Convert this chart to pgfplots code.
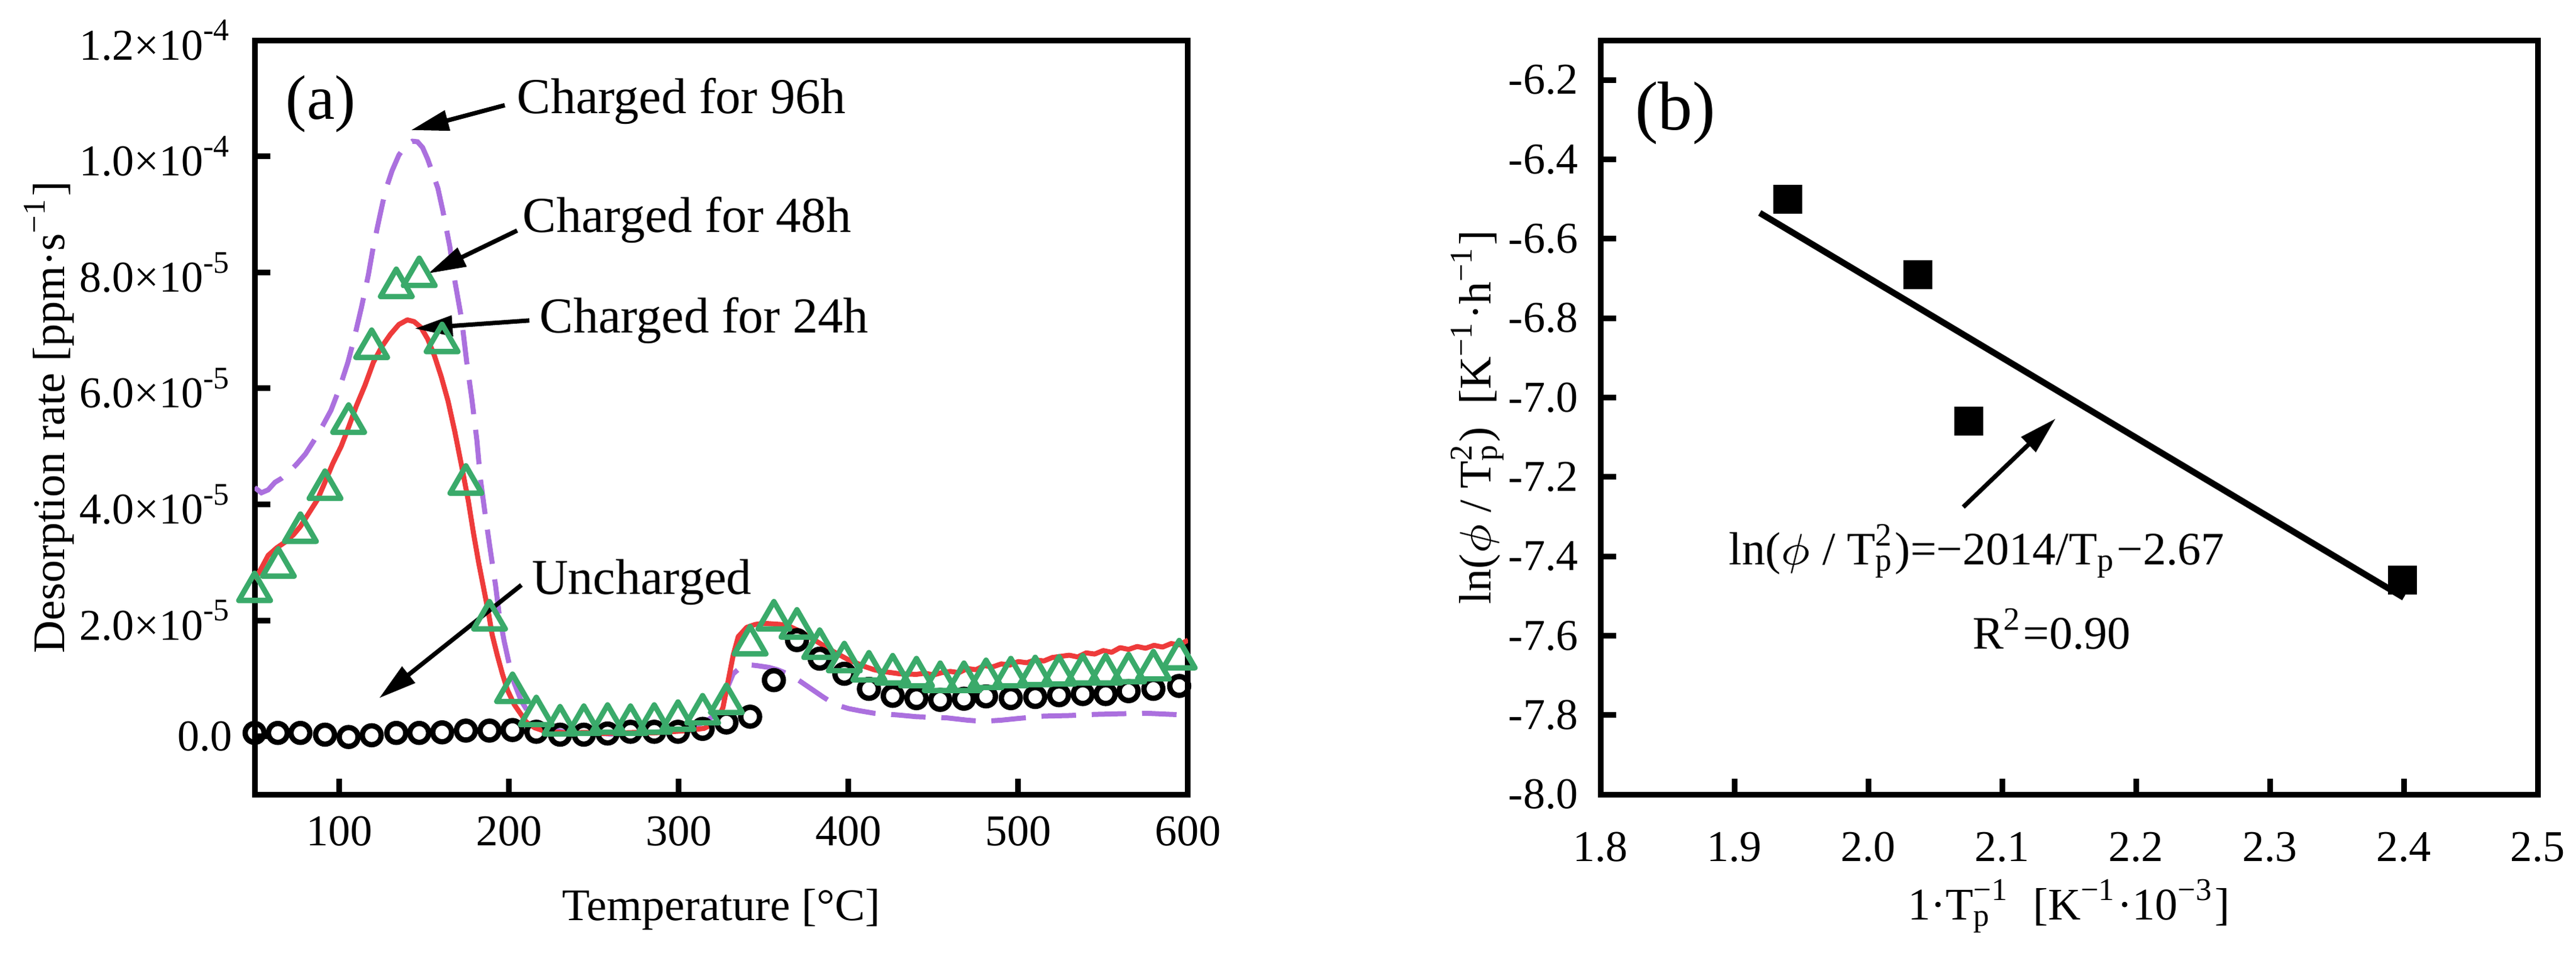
\documentclass[border=0pt]{standalone}
\usepackage{pgfplots}
\pgfplotsset{compat=1.18}
\usepackage{fontspec}
\setmainfont{Liberation Serif}
\usetikzlibrary{arrows.meta}
\definecolor{cred}{RGB}{238,59,59}
\definecolor{cgreen}{RGB}{58,170,106}
\definecolor{cpurple}{RGB}{171,112,222}
\newcommand{\Tpt}{T\rlap{\textsuperscript{2}}\textsubscript{p}}
\newcommand{\Tpm}{T\rlap{\textsubscript{p}}\textsuperscript{−1}}
\tikzset{annarrow/.style={line width=0.7pt, -{Triangle[length=6pt,width=3.2pt]}}}
\begin{document}
\begin{tikzpicture}
\path[use as bounding box] (0pt,0pt) rectangle (409.8pt,-152.8pt);
\begin{axis}[
  at={(40.5pt,-126.4pt)}, anchor=south west, scale only axis,
  width=148.5pt, height=120pt,
  xmin=50, xmax=600, ymin=-1e-5, ymax=1.2e-4,
  scaled y ticks=false, scaled x ticks=false,
  xtick={100,200,300,400,500,600},
  xticklabels={100,200,300,400,500,600},
  ytick={0,2e-5,4e-5,6e-5,8e-5,1e-4,1.2e-4},
  yticklabels={0.0,2.0×10\textsuperscript{-5},4.0×10\textsuperscript{-5},6.0×10\textsuperscript{-5},8.0×10\textsuperscript{-5},1.0×10\textsuperscript{-4},1.2×10\textsuperscript{-4}},
  tick align=inside, tick pos=left, major tick length=2.5pt,
  axis line style={line width=0.9pt},
  tick style={line width=0.9pt, black},
  tick label style={font=\fontsize{7}{8}\selectfont},
  label style={font=\fontsize{7.2}{8}\selectfont},
  xlabel={Temperature [°C]},
  ylabel={Desorption rate [ppm·s\textsuperscript{−1}]},
  xlabel style={at={(axis description cs:0.5,-0.1525)}, anchor=center},
  ylabel style={at={(axis description cs:-0.2202,0.5)}, anchor=center},
]
% Uncharged
\addplot[only marks, mark=o, mark size=1.5pt, black, mark options={line width=0.85pt}] table {
50 0.06e-5
63.7 0.06e-5
77 0.06e-5
91.5 0.03e-5
105.4 -0.01e-5
119 0.02e-5
133.5 0.06e-5
147 0.06e-5
160.5 0.07e-5
174.5 0.10e-5
188.4 0.10e-5
202 0.11e-5
216 0.08e-5
230 0.03e-5
244 0.03e-5
258 0.05e-5
271.5 0.08e-5
285.5 0.08e-5
299.5 0.08e-5
314 0.13e-5
328 0.24e-5
342 0.34e-5
356 0.97e-5
369.6 1.66e-5
383 1.34e-5
397.5 1.08e-5
412 0.82e-5
426 0.70e-5
440 0.66e-5
454 0.63e-5
468 0.65e-5
481 0.69e-5
495.6 0.66e-5
510 0.68e-5
524 0.71e-5
538 0.73e-5
551.5 0.73e-5
565 0.78e-5
579.6 0.82e-5
594.8 0.87e-5
};
% 96h
\addplot[cpurple, line width=0.8pt, dash pattern=on 5.5pt off 2.5pt] table {
50 4.29e-5
54 4.20e-5
58 4.25e-5
62 4.38e-5
66 4.45e-5
70 4.55e-5
75 4.70e-5
80 4.87e-5
85 5.10e-5
90 5.35e-5
95 5.62e-5
100 6.00e-5
105 6.45e-5
109 6.90e-5
113 7.40e-5
117 7.95e-5
120 8.45e-5
124 9.00e-5
127 9.40e-5
131 9.75e-5
135 10.02e-5
139 10.18e-5
143 10.26e-5
146 10.25e-5
149 10.15e-5
152 9.95e-5
155 9.70e-5
158 9.45e-5
161 9.05e-5
165 8.45e-5
168 7.85e-5
172 7.19e-5
175 6.45e-5
178 5.82e-5
181 5.10e-5
183 4.45e-5
186 3.80e-5
189 3.19e-5
192 2.60e-5
194 2.13e-5
197 1.65e-5
200 1.25e-5
203 0.92e-5
207 0.62e-5
212 0.38e-5
217 0.24e-5
225 0.12e-5
232 0.08e-5
240 0.05e-5
250 0.06e-5
260 0.04e-5
270 0.07e-5
280 0.06e-5
290 0.08e-5
300 0.10e-5
310 0.18e-5
318 0.30e-5
324 0.45e-5
328 0.80e-5
332 1.08e-5
336 1.18e-5
340 1.24e-5
346 1.22e-5
353 1.19e-5
358 1.15e-5
364 1.08e-5
370 0.98e-5
378 0.82e-5
385 0.68e-5
392 0.55e-5
400 0.48e-5
407 0.44e-5
415 0.40e-5
429 0.37e-5
440 0.34e-5
458 0.32e-5
470 0.28e-5
479 0.26e-5
490 0.28e-5
500 0.31e-5
515 0.35e-5
530 0.36e-5
545 0.38e-5
559 0.39e-5
575 0.40e-5
590 0.38e-5
600 0.37e-5
};
% 24h
\addplot[cred, line width=0.8pt, line join=round] table {
50 2.70e-5
54 2.90e-5
58 3.12e-5
63 3.25e-5
68 3.35e-5
73 3.48e-5
77 3.62e-5
82 3.85e-5
87 4.08e-5
91 4.35e-5
96 4.70e-5
101 5.00e-5
105 5.30e-5
110 5.70e-5
115 6.05e-5
120 6.45e-5
125 6.72e-5
130 6.93e-5
135 7.10e-5
140 7.18e-5
144 7.15e-5
148 7.05e-5
152 6.85e-5
156 6.56e-5
160 6.20e-5
164 5.78e-5
168 5.25e-5
172 4.66e-5
176 4.05e-5
179 3.50e-5
182 3.00e-5
185 2.55e-5
188 2.10e-5
190 1.75e-5
193 1.40e-5
196 1.08e-5
199 0.80e-5
203 0.55e-5
207 0.38e-5
210 0.25e-5
215 0.15e-5
220 0.10e-5
225 0.08e-5
235 0.06e-5
245 0.07e-5
255 0.05e-5
265 0.06e-5
275 0.07e-5
285 0.06e-5
295 0.08e-5
305 0.10e-5
315 0.14e-5
322 0.25e-5
326 0.50e-5
329 0.95e-5
332 1.40e-5
335 1.72e-5
340 1.88e-5
345 1.93e-5
350 1.95e-5
355 1.94e-5
360 1.93e-5
365 1.90e-5
370 1.83e-5
375 1.75e-5
380 1.66e-5
385 1.57e-5
390 1.48e-5
395 1.40e-5
400 1.32e-5
405 1.26e-5
410 1.20e-5
415 1.15e-5
420 1.12e-5
425 1.10e-5
430 1.08e-5
440 1.07e-5
445 1.09e-5
450 1.06e-5
455 1.10e-5
460 1.12e-5
465 1.10e-5
470 1.17e-5
475 1.15e-5
480 1.22e-5
485 1.20e-5
490 1.25e-5
495 1.23e-5
500 1.29e-5
505 1.27e-5
510 1.32e-5
515 1.30e-5
520 1.36e-5
525 1.38e-5
530 1.40e-5
535 1.37e-5
540 1.44e-5
545 1.42e-5
550 1.48e-5
555 1.45e-5
560 1.53e-5
565 1.50e-5
570 1.55e-5
575 1.52e-5
580 1.57e-5
585 1.54e-5
590 1.60e-5
595 1.58e-5
600 1.66e-5
};
% 48h
\addplot[only marks, mark=triangle, mark size=2.9pt, cgreen, mark options={line width=0.85pt, line join=round}] table {
50 2.50e-5
64 2.92e-5
77 3.52e-5
91.5 4.26e-5
105.4 5.40e-5
119 6.69e-5
133.5 7.74e-5
147 7.93e-5
160.5 6.79e-5
174.5 4.35e-5
188.4 2.01e-5
202 0.76e-5
216 0.36e-5
230 0.20e-5
244 0.21e-5
258 0.23e-5
271.5 0.21e-5
285.5 0.23e-5
299.5 0.28e-5
314 0.39e-5
328 0.57e-5
342 1.58e-5
356 2.01e-5
369.6 1.87e-5
383 1.52e-5
397.5 1.29e-5
412 1.13e-5
426 1.08e-5
440 1.03e-5
454 0.95e-5
468 0.95e-5
481 1.00e-5
495.6 1.03e-5
510 1.05e-5
524 1.06e-5
538 1.08e-5
551.5 1.08e-5
565 1.10e-5
579.6 1.15e-5
594.8 1.34e-5
};
\node[font=\fontsize{10}{11}\selectfont, inner sep=0] at (axis cs:89,10.9e-5) {(a)};
\node[anchor=west, inner sep=0, font=\fontsize{8}{9}\selectfont] at (axis cs:204,10.95e-5) {Charged for 96h};
\draw[annarrow] (axis cs:197.4,10.88e-5) -- (axis cs:142.2,10.45e-5);
\node[anchor=west, inner sep=0, font=\fontsize{8}{9}\selectfont] at (axis cs:207.4,8.9e-5) {Charged for 48h};
\draw[annarrow] (axis cs:204.7,8.72e-5) -- (axis cs:152.3,7.98e-5);
\node[anchor=west, inner sep=0, font=\fontsize{8}{9}\selectfont] at (axis cs:217.3,7.17e-5) {Charged for 24h};
\draw[annarrow] (axis cs:211.9,7.17e-5) -- (axis cs:144.4,7.03e-5);
\node[anchor=west, inner sep=0, font=\fontsize{8}{9}\selectfont] at (axis cs:212.6,2.66e-5) {Uncharged};
\draw[annarrow] (axis cs:207.2,2.61e-5) -- (axis cs:123.4,0.66e-5);
\end{axis}
\begin{axis}[
  at={(254.6pt,-126.4pt)}, anchor=south west, scale only axis,
  width=149.1pt, height=120pt,
  xmin=1.8, xmax=2.5, ymin=-8, ymax=-6.1,
  xtick={1.8,1.9,2.0,2.1,2.2,2.3,2.4,2.5},
  xticklabels={1.8,1.9,2.0,2.1,2.2,2.3,2.4,2.5},
  ytick={-8,-7.8,-7.6,-7.4,-7.2,-7,-6.8,-6.6,-6.4,-6.2},
  yticklabels={-8.0,-7.8,-7.6,-7.4,-7.2,-7.0,-6.8,-6.6,-6.4,-6.2},
  tick align=inside, tick pos=left, major tick length=2.5pt,
  axis line style={line width=0.9pt},
  tick style={line width=0.9pt, black},
  tick label style={font=\fontsize{7}{8}\selectfont},
  xticklabel style={yshift=-2.5pt},
  label style={font=\fontsize{7.2}{8}\selectfont},
  xlabel={1·\Tpm\ \ [K\textsuperscript{−1}·10\textsuperscript{−3}]},
  ylabel={ln($\phi$ / \Tpt)\ \ [K\textsuperscript{−1}·h\textsuperscript{−1}]},
  xlabel style={at={(axis description cs:0.5,-0.148)}, anchor=center},
  ylabel style={at={(axis description cs:-0.1315,0.5)}, anchor=center},
]
\addplot[only marks, mark=square*, mark size=2.1pt, black] table {
1.940 -6.50
2.037 -6.69
2.075 -7.06
2.399 -7.46
};
\addplot[black, line width=1pt] table {
1.919 -6.535
2.400 -7.504
};
\node[font=\fontsize{11}{12}\selectfont, inner sep=0] at (axis cs:1.856,-6.284) {(b)};
\draw[annarrow] (axis cs:2.071,-7.276) -- (axis cs:2.140,-7.053);
\node[font=\fontsize{7.4}{8}\selectfont, inner sep=0] at (axis cs:2.081,-7.387) {ln($\phi$ / \Tpt)=−2014/T\textsubscript{p}−2.67};
\node[font=\fontsize{7.4}{8}\selectfont, inner sep=0] at (axis cs:2.137,-7.584) {R\textsuperscript{2}=0.90};
\end{axis}
\end{tikzpicture}
\end{document}
